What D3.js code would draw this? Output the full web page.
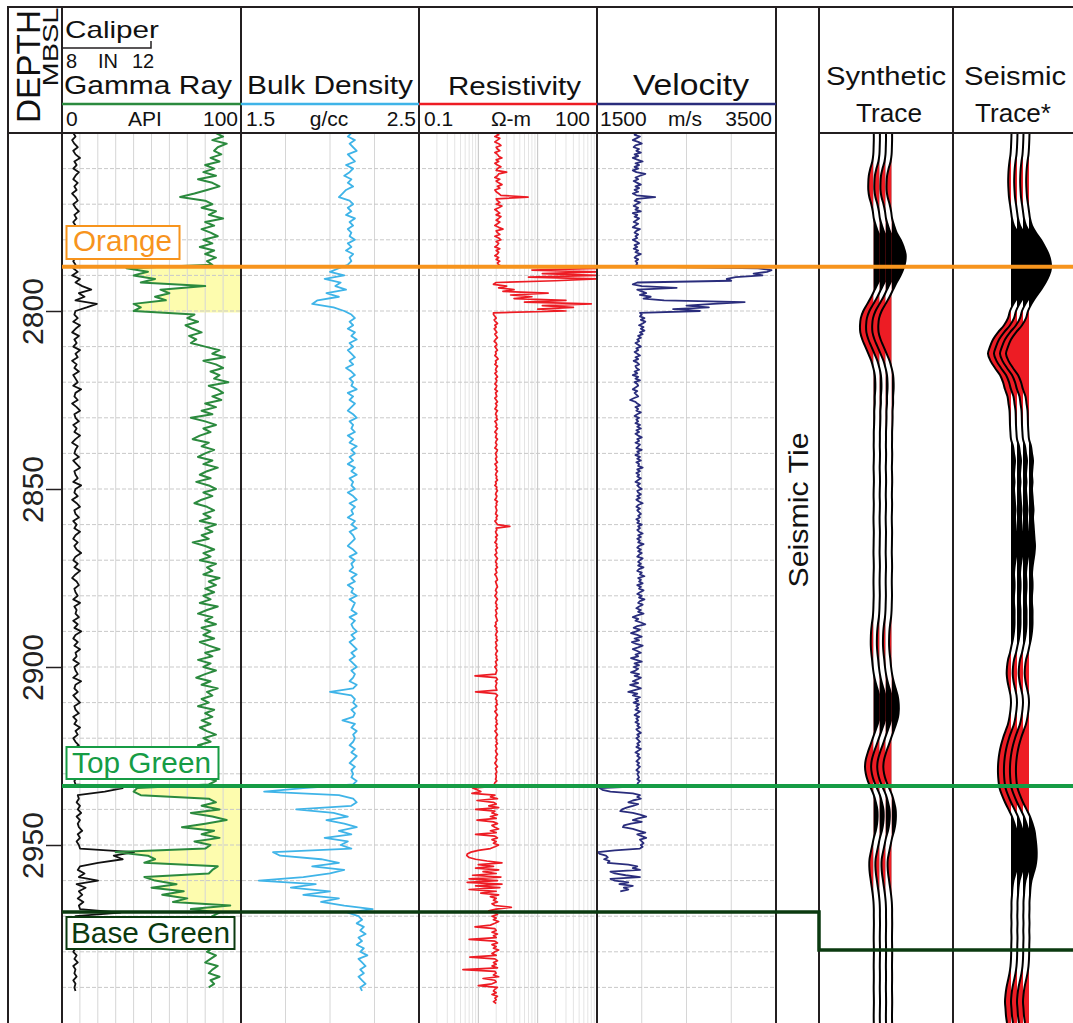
<!DOCTYPE html>
<html>
<head>
<meta charset="utf-8">
<script src="https://cdn.jsdelivr.net/npm/d3@7"></script>
<style>
  html, body { margin: 0; padding: 0; background: #fff; }
  svg { display: block; }
</style>
</head>
<body>
<svg id="chart" width="1073" height="1023"></svg>
<script>
// ---------------------------------------------------------------
// Well log data (depth in metres below sea level)
// ---------------------------------------------------------------
const DEPTH_TOP = 2750;
const DEPTH_BOTTOM = 3000;
const LOG_STEP = 1;     // gamma ray, caliper, density sample interval (m)
const FINE_STEP = 0.5;  // resistivity, velocity sample interval (m)
const TRACE_STEP = 2;   // seismic trace sample interval (m)

const depthTicks = [2800, 2850, 2900, 2950];

// Formation tops
const topNames = ["Orange", "Top Green", "Base Green"];
const topDepths = [2787.6, 2933.4, 2968.8];
const topColors = ["#f7941d", "#169c45", "#0b3a10"];
const baseGreenTieDepth = 2979.5;   // Base Green on the seismic side of the tie

// Reservoir intervals shaded on the gamma ray track
const payTops = [2787.6, 2933.4];
const payBases = [2800.4, 2968.8];

// Gamma ray (API), 2750–2990 m
const gammaRay = [
  86,90,84,92,87,85,89,83,88,80, 85,79,86,76,84,88,81,74,66,80,
  84,78,86,82,90,80,85,78,83,87, 79,84,77,85,80,86,81,84,
  36,48,40,52,44,80,55,60,52,58,40,44,40,
  74,70,76,69,73,78,71,75,72,
  80,88,84,91,79,86,90,83,88,85,93,82,87,90,84,89,80,86,
  78,84,72,80,86,79,83,77,73,82, 78,85,80,76,84,79,87,81,77,83,
  75,82,86,79,84,78,74,81,85,79, 83,77,86,80,84,78,82,73,80,85,
  79,83,77,86,81,84,79,88,82,86, 80,85,79,83,77,87,81,76,84,80,
  86,78,83,79,85,77,82,88,80,84, 76,83,79,86,80,75,83,78,87,81,
  84,78,82,76,85,80,84,78,83,77, 81,86,79,83,76,82,79,85,80,76,
  83,79,84,80,86,82,
  42,40,44,82,86,78,88,72,84,92, 80,67,85,78,88,74,83,80,30,48,
  52,46,87,84,82,46,52,64,50,68, 56,70,62,94,72,88,
  84,81,87,83,86,80,85,82,88,84, 81,86,83,80,87,84,82,88,83,85, 82
];

// Caliper (in), 2750–2991 m
const caliper = [
  8.5,8.6,8.45,8.55,8.7,8.5,8.6,8.8,8.55,8.65, 8.5,8.75,8.6,8.5,8.7,8.55,8.65,8.45,8.6,8.7,
  8.5,8.6,8.75,8.55,8.65,8.5,8.6,8.7,8.45,8.6, 8.55,8.7,8.5,8.65,8.55,8.6,8.5,8.6,
  8.5,8.7,8.45,8.8,8.6,8.9,9.3,8.75,9.0,8.6,9.55,9.1,8.6,
  8.55,8.7,8.5,8.8,8.6,8.45,8.75,8.55,8.65,8.5, 8.8,8.6,8.7,8.45,8.65,8.55,8.75,8.5,8.6,8.7,
  8.5,8.85,8.6,8.55,8.7,8.45,8.65,8.8,8.55,8.6, 8.75,8.5,8.65,8.55,8.8,8.6,8.45,8.7,8.6,8.55,
  8.75,8.5,8.65,8.8,8.55,8.6,8.7,8.5,8.85,8.6, 8.55,8.7,8.45,8.65,8.8,8.55,8.6,8.75,8.5,8.65,
  8.55,8.8,8.6,8.5,8.7,8.55,8.65,8.85,8.6,8.5, 8.7,8.55,8.8,8.6,8.45,8.65,8.75,8.55,8.6,8.7,
  8.5,8.8,8.55,8.65,8.6,8.75,8.5,8.7,8.55,8.85, 8.6,8.5,8.7,8.55,8.8,8.6,8.65,8.5,8.75,8.55,
  8.6,8.7,8.5,8.85,8.6,8.55,8.7,8.5,8.65,8.8, 8.55,8.6,8.75,8.5,8.65,8.55,8.8,8.6,8.7,8.5,
  8.6,8.75,8.5,8.65,8.55,8.7,8.6,8.5,8.75,8.6, 8.65,8.55,8.6,
  10.7,9.9,8.7,8.75,8.65,8.8,8.7,8.85,8.65,8.8, 8.7,8.75,8.9,8.7,8.8,8.65,8.75,8.8,11.2,10.3,
  10.7,9.6,8.8,8.7,9.0,8.75,9.6,8.65,9.05,8.75, 8.9,8.7,8.95,8.75,8.8,10.6,
  8.6,8.5,8.65,8.55,8.7,8.5,8.6,8.75,8.55,8.6, 8.5,8.65,8.55,8.7,8.5,8.6,8.55,8.65,8.5,8.6, 8.55,8.6
];

// Bulk density (g/cc), 2750–2991 m
const bulkDensity = [
  2.12,2.10,2.14,2.11,2.13,2.15,2.10,2.12,2.14,2.09, 2.13,2.11,2.08,2.12,2.10,2.13,2.09,2.07,2.05,2.11,
  2.13,2.10,2.12,2.09,2.14,2.11,2.13,2.10,2.12,2.11, 2.14,2.10,2.12,2.09,2.13,2.11,2.12,2.10,
  2.05,2.00,2.08,1.97,2.06,2.03,2.09,1.98,2.05,1.93,1.90,2.02,2.08,
  2.12,2.14,2.11,2.13,2.10,2.14,2.12,2.15,2.11,2.13, 2.10,2.12,2.14,2.11,2.13,2.09,2.12,2.14,2.11,2.13,
  2.12,2.15,2.10,2.13,2.11,2.14,2.12,2.10,2.13,2.15, 2.11,2.13,2.12,2.14,2.10,2.13,2.11,2.15,2.12,2.14,
  2.11,2.13,2.10,2.14,2.12,2.15,2.11,2.13,2.12,2.14, 2.10,2.13,2.15,2.11,2.14,2.12,2.13,2.10,2.14,2.12,
  2.15,2.11,2.13,2.14,2.12,2.10,2.13,2.15,2.11,2.14, 2.12,2.13,2.11,2.15,2.12,2.14,2.10,2.13,2.12,2.15,
  2.11,2.14,2.13,2.12,2.15,2.11,2.14,2.12,2.13,2.15, 2.12,2.14,2.11,2.13,2.15,2.12,2.14,2.11,2.13,2.15,
  2.12,2.14,2.13,2.11,2.15,2.13,2.00,2.12,2.14,2.13, 2.15,2.12,2.14,2.13,2.07,2.14,2.12,2.15,2.13,2.14,
  2.13,2.11,2.14,2.12,2.15,2.13,2.11,2.14,2.12,2.13, 2.12,2.15,2.13,
  1.85,1.63,2.05,2.13,2.15,2.12,1.81,2.02,2.10,1.98, 2.08,2.15,2.05,2.12,1.97,2.10,2.06,2.12,1.68,1.72,
  1.95,2.05,1.90,2.08,2.00,1.85,1.60,1.92,1.78,2.00, 1.85,2.05,1.95,2.08,2.24,2.10,
  2.16,2.18,2.15,2.19,2.17,2.20,2.16,2.18,2.15,2.19, 2.17,2.21,2.16,2.18,2.20,2.17,2.19,2.16,2.18,2.20, 2.17,2.18
];

// Resistivity (ohm-m), 2750–2994.5 m
const resistivity = [
  2.0,2.2,1.9,2.3,2.1,1.9,2.2,2.4,2.0,2.1, 2.3,1.9,2.1,2.2,2.5,2.0,2.2,1.9,2.1,2.4,
  2.1,2.0,3.0,2.2,2.1,1.9,2.3,2.0,2.2,2.5, 2.1,2.3,1.9,2.0,2.2,2.4,6.9,2.0,2.1,2.3,
  2.0,2.5,2.2,1.9,2.1,2.3,2.0,2.4,2.2,2.0, 2.3,2.1,1.9,2.2,2.6,2.0,2.1,2.3,1.9,2.2,
  2.4,2.0,2.2,2.1,1.9,2.3,2.0,2.2,2.1,1.9, 2.2,2.0,2.3,2.1,2.2,
  2.5,100,8,100,12,100,7,100,20, 2.0,1.8,3.0,2.2,4.0,2.6,15,3.5,8,4, 30,6,80,12,40,10,30,1.8,
  1.8,1.9,2.0,1.85,1.95,2.1,1.9,2.0,1.85,1.95, 2.05,1.9,2.0,2.1,1.95,1.85,2.0,2.05,1.9,2.0,
  2.1,1.95,2.0,1.9,2.05,2.15,1.95,2.0,1.9,2.1, 2.0,1.95,2.05,1.9,2.0,2.1,1.95,2.05,2.0,1.9,
  2.05,2.0,1.9,2.1,1.95,2.0,2.05,1.9,2.0,2.1, 1.95,2.05,2.0,1.9,2.1,2.0,1.95,2.05,2.0,2.1,
  1.9,2.0,2.05,1.95,2.1,2.0,1.9,2.05,2.0,1.95, 2.1,2.0,1.95,2.05,2.0,1.9,2.1,2.05,1.95,2.0,
  2.05,1.95,2.0,2.1,1.9,2.0,2.05,1.95,2.1,2.0, 1.95,2.05,2.0,2.1,1.95,2.0,1.9,2.05,2.0,2.1,
  2.0,1.95,2.05,2.0,1.9,2.1,2.0,2.05,1.95,2.0, 2.05,2.0,1.95,2.1,2.0,2.05,1.9,2.0,2.1,3.4,
  2.0,2.05,1.95,2.0,2.1,1.95,2.05,2.0,1.9,2.05, 2.0,2.1,1.95,2.0,2.05,1.9,2.0,2.1,2.0,1.95,
  2.05,2.0,2.1,1.95,2.0,2.05,1.9,2.0,2.05,2.1, 1.95,2.0,2.05,2.1,2.0,1.95,2.05,2.0,1.9,2.0,
  2.1,2.0,1.95,2.05,2.0,2.1,1.95,2.0,2.05,1.95, 2.0,2.05,2.1,1.95,2.0,1.9,2.05,2.0,2.1,2.0,
  1.95,2.05,2.0,2.1,1.95,2.0,2.05,1.95,2.0,2.1, 2.0,1.95,2.05,2.0,2.1,1.95,2.0,2.05,1.9,2.0,
  2.05,2.0,1.95,0.88,2.0,2.1,1.95,2.05,2.0,1.95, 2.0,2.05,0.9,1.95,2.1,2.0,1.95,2.05,2.0,2.1,
  1.95,2.0,2.05,1.9,2.0,2.1,2.0,1.95,2.05,2.0, 2.1,1.95,2.0,2.05,1.9,2.0,2.1,2.0,1.95,2.05,
  2.0,2.1,1.95,2.0,2.05,1.95,2.0,2.1,2.0,1.95, 2.05,2.0,1.9,2.0,2.1,1.95,2.0,2.05,1.95,2.0,
  2.0,1.95,2.05,1.9,1.85,1.95,
  0.8,0.95,1.1,0.78,1.9,1.6,2.1,0.95,1.8,2.0, 1.5,2.2,0.9,1.9,1.7,2.1,1.6,2.0,0.95,1.8,
  2.1,1.7,1.9,2.2,1.6,2.0,0.9,1.9,2.1,1.7, 2.0,1.8,2.2,1.9,1.6,1.0,0.75,0.65,0.64,0.7,
  0.9,1.4,2.5,1.0,1.8,0.9,2.2,1.2,2.0,0.8, 2.4,0.7,2.1,0.65,2.5,0.9,2.3,0.7,2.0,1.1,
  2.2,1.6,2.0,1.8,2.1,1.7,1.9,3.6,2.0,1.5,
  1.9,2.1,1.7,2.0,1.8,2.2,1.9,1.6,0.88,1.9, 2.0,1.7,2.1,1.8,2.0,0.7,1.9,2.1,1.7,2.0,
  1.8,2.2,1.9,1.7,2.0,0.72,1.9,2.1,1.8,2.0, 1.7,2.1,0.55,1.9,2.0,1.8,2.2,1.2,1.9,2.0,
  1.7,1.0,2.1,1.9,1.8,2.0,1.7,2.1,1.9,2.0, 1.8,2.0
];

// Sonic velocity (m/s), 2750–2963 m
const velocity = [
  1950,1920,1980,1940,1900,1960,2000,1930,1910,1970, 1940,1990,1920,1960,1900,1950,2010,1930,1970,1920,
  1960,1900,1940,2040,1980,1930,1960,1910,1950,1990, 1930,1970,1920,1960,1900,1940,2150,1950,1920,1980,
  1940,1910,1960,1930,1990,1900,1950,1920,1970,1940, 1910,1960,1930,1900,1980,1940,1920,1960,1930,1950,
  1900,1940,1970,1920,1950,1910,1960,1930,1990,1940, 1920,1960,1930,1950,1940,
  1980,3300,3450,3400,3250,3350,3050,2950,3000, 1950,1900,2000,2390,1950,2000,2050,1980,2100,2020,
  2250,3150,2800,2500,2750,2350,2650,1980,
  2000,1980,2030,1990,2040,2010,1970,2020,1990,2030, 1980,2010,1960,1990,1950,1970,1930,1960,1990,1940,
  1960,1920,1950,1980,1930,1960,1910,1950,1970,1930, 1940,1970,1920,1950,1900,1960,1930,1980,1920,1950,
  1960,1930,1900,1950,1920,1940,1960,1910,1870,1930, 1950,1980,1930,1960,1940,1990,1950,1920,1970,1940,
  1960,1930,1980,1950,1990,1940,1970,1930,1960,2000, 1950,1970,1930,1980,1960,1940,2000,1950,1970,1930,
  1980,1950,1990,1940,1970,1960,2010,1950,1980,1940, 1970,1950,1990,1960,1930,1980,1950,1970,2000,1950,
  1960,1990,1950,1980,1940,1970,2010,1960,1940,1980, 1950,1970,1990,1960,1980,1940,1970,1950,2000,1960,
  1980,1950,1970,2010,1960,1990,1950,1980,1960,2020, 1970,1950,1990,1960,2000,1970,1950,2010,1980,1960,
  1990,1960,2020,1970,1950,2000,1980,2030,1960,1990, 1970,2010,1950,1990,1970,2020,1980,1950,2000,1970,
  2030,1980,1960,2010,1970,1940,1990,1960,2020,1950, 1900,1960,1930,1990,2040,1950,1910,1980,1940,1880,
  1950,2000,1920,1970,1890,1940,2010,1960,1900,1950, 1990,1930,1960,1880,1940,2000,1920,1970,1910,1960,
  1930,1880,1970,1920,1990,1950,1900,1960,1870,1940, 1990,1920,1850,1950,1900,1980,1930,1960,1910,1970,
  1940,1960,1930,1980,1950,1920,1970,1940,1960,1930, 1970,1950,1980,1940,1960,1990,1950,1970,1940,1960,
  1980,1950,1970,1940,1990,1960,1930,1970,1950,1980, 1960,1940,1970,1950,1980,1960,1940,1970,1950,1960,
  1970,1950,1980,1960,1950,1970,
  1530,1560,1650,1900,1980,1950,1990,1900, 1850,1960,1900,1830,1780,1760,1900,1980,
  2050,1960,1900,2000,1880,1800,1790,1900, 1970,2040,1950,2000,2050,1980,2000,2020,
  1990,2010,1980,1700,1510,1530,1600,1620, 1580,1640,1620,1850,1950,1900,1980,1650,
  1700,1820,1980,1650,1700,1850,1750,1900, 1800,1850,1760
];

// Synthetic seismogram amplitude, 2750–3000 m
const syntheticTrace = [
  0.5,0.5,0.3,0,-1,-3,-4.5,-5,-5,-4, -2,-0.5,0.5,2.5,5,9,12,14,13.8,12,
  9,5,1.5,-2,-6,-10,-12.5,-13.3,-13,-11, -8,-5,-2,0,1.5,2,2,1.5,1.5,1,
  1,0.8,0.5,0.5,0.4,0.6,0.5,0.3,0.5,0.6, 0.4,0.3,0.5,0.4,0.2,0.3,0.5,0.4,0.3,0.2,
  0.4,0.5,0.3,0.2,0.3,0.4,0.2,0,-0.5,-1.5, -2.2,-2.5,-2.5,-2,-1.2,-0.5,0.5,2,4,6,
  7,7.2,6.5,4.5,2,-0.5,-3,-5.5,-7.5,-8.3, -7.5,-5.5,-2.5,0.5,2.5,4,4.3,3.8,2.5,0.5,
  -1,-2.5,-3.8,-4,-3.5,-2.5,-1.5,-0.5,0.2,0.5, 0.5,0.6,0.5,0.4,0.5,0.6,0.5,0.4,0.5,0.5,
  0.4,0.5,0.6,0.5,0.4,0.5
];

// Recorded seismic trace at the well, 2750–3000 m
const seismicTrace = [
  0.5,0.3,0,-0.5,-1.5,-2.3,-2.7,-2.8,-2.5,-2, -1,0,1,3,7,12,16,19.5,21.5,22,
  20,16.5,12,7,2.5,-1,-3,-7,-13,-18, -21,-23,-20.5,-16,-11,-8,-6,-3.5,-2.5,-1.5,
  -1.2,-1,-0.6,0,2,3,4,3.5,3,3.5, 3,3.5,4,4.5,4,4.5,5,5.5,6,5.5,
  4.5,3.5,3,3.5,3.5,3,3,3.5,3.5,3.5, 3,2,0.5,-1,-3,-4,-4.3,-3.5,-2,-0.5,
  0,-0.5,-1.5,-3,-5.5,-8,-10,-11.5,-12.5,-13, -13,-12.5,-11.5,-9,-6,-2.5,1,3.5,5.5,6.5,
  7.3,7.7,7.5,6.5,4.5,2.5,1.5,1,0.5,0.5, 0.3,0.5,0.3,0.5,0.3,0.2,0,-0.5,-1.5,-3,
  -4.5,-5.5,-6,-5.5,-5,-4
];

// ---------------------------------------------------------------
// Layout
// ---------------------------------------------------------------
const FONT = '"Liberation Sans", Arial, Helvetica, sans-serif';
const X = { left: 8, t1: 62, t2: 241, t3: 419, t4: 597, t5: 776, tie: 819, seis: 953, right: 1073 };
const Y = { top: 7, head: 133, bottom: 1023 };
const FRAME = "#231f20";
const C = {
  gr: "#2b8a3e", cal: "#111111", rho: "#3fb4e8", res: "#ed1c24", vel: "#2a2d7c",
  pay: "#fdfcae", grid: "#d6d6d6", gridMinor: "#e4e4e4", gridDecade: "#c2c2c2", dash: "#c9c9c9"
};

const svg = d3.select("#chart");
const defs = svg.append("defs");
svg.append("rect").attr("width", 1073).attr("height", 1023).attr("fill", "#fff");

const y = d3.scaleLinear().domain([DEPTH_TOP, DEPTH_BOTTOM]).range([Y.head, Y.bottom]);
const xGR = d3.scaleLinear().domain([0, 100]).range([X.t1, X.t2]);
const xCal = d3.scaleLinear().domain([8, 12]).range([X.t1, 152]);
const xRho = d3.scaleLinear().domain([1.5, 2.5]).range([X.t2, X.t3]);
const xRes = d3.scaleLog().domain([0.1, 100]).range([X.t3, X.t4]);
const xVel = d3.scaleLinear().domain([1500, 3500]).range([X.t4, X.t5]);
const xAmp = d3.scaleLinear().domain([-25, 25]).range([-25, 25]);

const toSeries = (vals, step) => vals.map((v, i) => ({ d: DEPTH_TOP + i * step, v }));

function clipRect(id, x0, x1, y0, y1) {
  defs.append("clipPath").attr("id", id).append("rect")
    .attr("x", x0).attr("y", y0).attr("width", x1 - x0).attr("height", y1 - y0);
  return `url(#${id})`;
}

// ---------------------------------------------------------------
// Reservoir shading on the gamma ray track
// ---------------------------------------------------------------
const grSeries = toSeries(gammaRay, LOG_STEP);
const payClip = defs.append("clipPath").attr("id", "payClip");
payTops.forEach((t, i) => {
  payClip.append("rect").attr("x", X.t1).attr("width", X.t2 - X.t1)
    .attr("y", y(t)).attr("height", y(payBases[i]) - y(t));
});
svg.append("path")
  .attr("d", d3.area().y(p => y(p.d)).x0(p => xGR(p.v)).x1(X.t2)(grSeries))
  .attr("fill", C.pay).attr("clip-path", "url(#payClip)");

// ---------------------------------------------------------------
// Grid
// ---------------------------------------------------------------
const grid = svg.append("g");
const vLines = [];
d3.range(10, 100, 10).forEach(v => vLines.push([xGR(v), C.grid]));
[1.75, 2.0, 2.25].forEach(v => vLines.push([xRho(v), C.grid]));
[0.1, 1, 10].forEach(dec => d3.range(2, 10).forEach(m => vLines.push([xRes(dec * m), C.gridMinor])));
[1, 10].forEach(v => vLines.push([xRes(v), C.gridDecade]));
[2000, 2500, 3000].forEach(v => vLines.push([xVel(v), C.grid]));
grid.selectAll("line.v").data(vLines).join("line")
  .attr("x1", d => d[0]).attr("x2", d => d[0])
  .attr("y1", Y.head).attr("y2", Y.bottom)
  .attr("stroke", d => d[1]).attr("stroke-width", 1);

grid.selectAll("line.h").data(d3.range(2760, DEPTH_BOTTOM, 10)).join("line")
  .attr("x1", X.t1).attr("x2", X.t5)
  .attr("y1", d => y(d)).attr("y2", d => y(d))
  .attr("stroke", C.dash).attr("stroke-width", 1).attr("stroke-dasharray", "4,2");

// ---------------------------------------------------------------
// Log curves
// ---------------------------------------------------------------
function drawLog(vals, step, xs, color, width, clipId, x0, x1) {
  const cp = clipRect(clipId, x0, x1, Y.head, Y.bottom);
  svg.append("path")
    .attr("d", d3.line().x(p => xs(p.v)).y(p => y(p.d))(toSeries(vals, step)))
    .attr("fill", "none").attr("stroke", color).attr("stroke-width", width)
    .attr("stroke-linejoin", "round").attr("clip-path", cp);
}
drawLog(caliper, LOG_STEP, xCal, C.cal, 1.8, "cCal", X.t1, X.t2);
drawLog(gammaRay, LOG_STEP, xGR, C.gr, 2, "cGR", X.t1, X.t2);
drawLog(bulkDensity, LOG_STEP, xRho, C.rho, 1.8, "cRho", X.t2, X.t3);
drawLog(resistivity, FINE_STEP, xRes, C.res, 1.7, "cRes", X.t3, X.t4);
drawLog(velocity, FINE_STEP, xVel, C.vel, 1.8, "cVel", X.t4, X.t5);

// ---------------------------------------------------------------
// Seismic traces: four repeated wiggles, black positive, red negative
// ---------------------------------------------------------------
function drawTrace(amps, base0, spacing, id) {
  const pts = amps.map((a, i) => ({ d: DEPTH_TOP + i * TRACE_STEP, a }));
  const g = svg.append("g");
  for (let k = 0; k < 4; k++) {
    const bx = base0 + k * spacing;
    const area = d3.area().curve(d3.curveCatmullRom)
      .y(p => y(p.d)).x0(bx).x1(p => bx + xAmp(p.a));
    const wiggle = d3.line().curve(d3.curveCatmullRom)
      .y(p => y(p.d)).x(p => bx + xAmp(p.a));
    g.append("path").attr("d", area(pts)).attr("fill", "#000")
      .attr("clip-path", clipRect(`${id}p${k}`, bx, bx + 60, Y.head, Y.bottom));
    g.append("path").attr("d", area(pts)).attr("fill", C.res)
      .attr("clip-path", clipRect(`${id}n${k}`, bx - 60, bx, Y.head, Y.bottom));
    g.append("path").attr("d", wiggle(pts)).attr("fill", "none")
      .attr("stroke", "#000").attr("stroke-width", 2);
  }
}
drawTrace(syntheticTrace, 873.3, 6.1, "syn");
drawTrace(seismicTrace, 1011, 6, "seis");

// ---------------------------------------------------------------
// Frame
// ---------------------------------------------------------------
const frame = svg.append("g").attr("stroke", FRAME).attr("stroke-width", 2).attr("fill", "none");
frame.append("line").attr("x1", X.left).attr("x2", X.right).attr("y1", Y.top).attr("y2", Y.top);
frame.append("line").attr("x1", X.left).attr("x2", X.t5).attr("y1", Y.head).attr("y2", Y.head);
frame.append("line").attr("x1", X.tie).attr("x2", X.right).attr("y1", Y.head).attr("y2", Y.head);
[X.left, X.t1, X.t2, X.t3, X.t4, X.t5, X.tie, X.seis].forEach(x => {
  frame.append("line").attr("x1", x).attr("x2", x).attr("y1", Y.top - 1).attr("y2", Y.bottom);
});

// Depth axis
const axis = svg.append("g").attr("transform", `translate(${X.t1},0)`)
  .call(d3.axisLeft(y).tickValues(depthTicks).tickSize(16).tickFormat(d3.format("d")));
axis.select(".domain").remove();
axis.selectAll(".tick line").attr("stroke", FRAME).attr("stroke-width", 1.5);
axis.selectAll(".tick text")
  .attr("x", 0).attr("dy", 0).attr("y", 0)
  .attr("transform", "translate(-19,0) rotate(-90)")
  .attr("text-anchor", "middle")
  .attr("font-family", FONT).attr("font-size", 30).attr("fill", "#222");

// ---------------------------------------------------------------
// Formation tops
// ---------------------------------------------------------------
const topLayer = svg.append("g");
const labelBoxes = [
  { x: 66.5, y: 226, w: 113, h: 33, tx: 73, tb: 251, tl: 99, width: 4 },
  { x: 66.5, y: 747, w: 152, h: 32, tx: 72, tb: 772.5, tl: 139, width: 4 },
  { x: 66.5, y: 917, w: 168, h: 32, tx: 71, tb: 942.5, tl: 159, width: 3.5 }
];
topNames.forEach((name, i) => {
  const yy = y(topDepths[i]);
  const p = d3.path();
  p.moveTo(X.t1, yy);
  if (name === "Base Green") {
    p.lineTo(X.tie, yy);
    p.lineTo(X.tie, y(baseGreenTieDepth));
    p.lineTo(X.right, y(baseGreenTieDepth));
  } else {
    p.lineTo(X.right, yy);
  }
  const b = labelBoxes[i];
  topLayer.append("path").attr("d", p.toString()).attr("fill", "none")
    .attr("stroke", topColors[i]).attr("stroke-width", b.width);
  topLayer.append("rect").attr("x", b.x).attr("y", b.y).attr("width", b.w).attr("height", b.h)
    .attr("fill", "#fff").attr("stroke", topColors[i]).attr("stroke-width", 2);
  topLayer.append("text").attr("x", b.tx).attr("y", b.tb).text(name)
    .attr("font-family", FONT).attr("font-size", 29).attr("fill", topColors[i])
    .attr("textLength", b.tl).attr("lengthAdjust", "spacingAndGlyphs");
});

// ---------------------------------------------------------------
// Header
// ---------------------------------------------------------------
const head = svg.append("g").attr("font-family", FONT).attr("fill", "#111");
function txt(x, yb, s, size, opt = {}) {
  const t = head.append("text").attr("x", x).attr("y", yb).attr("font-size", size)
    .attr("text-anchor", opt.anchor || "start").text(s);
  if (opt.len) t.attr("textLength", opt.len).attr("lengthAdjust", "spacingAndGlyphs");
  if (opt.rot) t.attr("transform", `rotate(-90 ${x} ${yb})`);
  return t;
}
txt(40, 66.5, "DEPTH", 34, { anchor: "middle", rot: true, len: 113 });
txt(58, 47, "MBSL", 22, { anchor: "middle", rot: true, len: 79 });

txt(65, 38, "Caliper", 24, { len: 94 });
head.append("path").attr("d", "M62,48H151V41").attr("fill", "none")
  .attr("stroke", FRAME).attr("stroke-width", 1.5);
txt(66, 68, "8", 20);
txt(98, 68, "IN", 20);
txt(132, 68, "12", 20);

const titles = [
  { s: "Gamma Ray", cx: 148, len: 168, size: 26, yb: 94 },
  { s: "Bulk Density", cx: 330, len: 166, size: 26, yb: 94 },
  { s: "Resistivity", cx: 514.5, len: 133, size: 26, yb: 95 },
  { s: "Velocity", cx: 691, len: 116, size: 30, yb: 95 }
];
titles.forEach(t => txt(t.cx, t.yb, t.s, t.size, { anchor: "middle", len: t.len }));

const curveColors = [C.gr, C.rho, C.res, C.vel];
[[X.t1, X.t2], [X.t2, X.t3], [X.t3, X.t4], [X.t4, X.t5]].forEach((r, i) => {
  head.append("line").attr("x1", r[0]).attr("x2", r[1]).attr("y1", 104).attr("y2", 104)
    .attr("stroke", curveColors[i]).attr("stroke-width", 2.5);
});

const scaleLabels = [
  ["0", 66, "start"], ["API", 145, "middle"], ["100", 238, "end"],
  ["1.5", 246, "start"], ["g/cc", 329, "middle"], ["2.5", 416, "end"],
  ["0.1", 424, "start"], ["\u03A9-m", 511, "middle"], ["100", 590, "end"],
  ["1500", 600, "start"], ["m/s", 685, "middle"], ["3500", 772, "end"]
];
scaleLabels.forEach(s => txt(s[1], 126, s[0], 21, { anchor: s[2] }));

txt(886, 85, "Synthetic", 26, { anchor: "middle", len: 120 });
txt(889, 122, "Trace", 26, { anchor: "middle", len: 66 });
txt(1015, 85, "Seismic", 26, { anchor: "middle", len: 102 });
txt(1013, 122, "Trace*", 26, { anchor: "middle", len: 76 });

txt(808, 510, "Seismic Tie", 28, { anchor: "middle", rot: true, len: 155 });
</script>
</body>
</html>
